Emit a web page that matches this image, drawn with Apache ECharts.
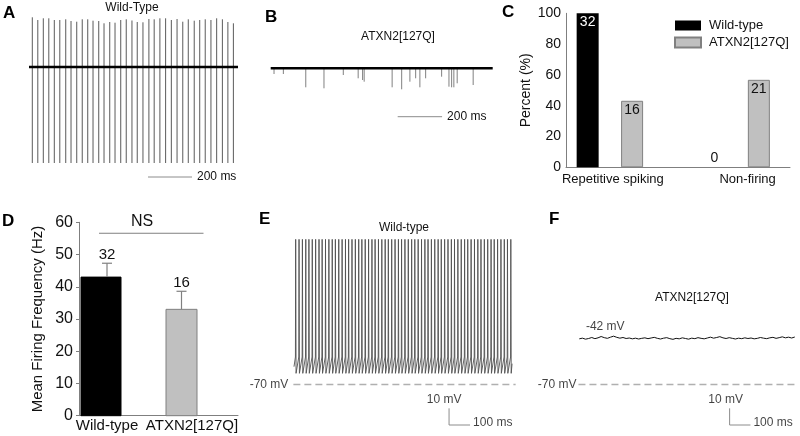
<!DOCTYPE html>
<html><head><meta charset="utf-8">
<script src="https://cdn.jsdelivr.net/npm/echarts@6/dist/echarts.min.js"></script>
<style>html,body{margin:0;padding:0;background:#fff}#c{width:800px;height:436px}</style>
</head><body><div id="c"></div>
<script>
// ================= DATA =================
// Panel A – Wild-Type extracellular trace: spike times (ms), upward peaks and downward trough (a.u.)
const aSpikeTimes = [15,40,65,90,115,140,167,191,217,242,267,291,317,341,367,391,417,442,468,492,518,545,569,595,621,647,673,699,724,751,776,801,827,853,879,904,929];
const aSpikePeaks = [49.7,47,48.7,48.7,47,47,47.7,46,45.3,47.7,47.7,46.3,46,43.7,45,44.3,47,47.7,46.5,45,44.7,48,47.7,48.7,48.7,47,48,45.3,47.7,46.3,47,47.7,47,48.7,47.7,45,43.7];
const aSpikeTrough = -96;
const aDuration = 950;
// Panel B – ATXN2[127Q] trace: event times (ms) and downward depths (a.u.)
const bSpikeTimes = [15,57,158,240,327,394,414,421,547,590,627,653,672,698,770,803,815,825,840,912];
const bSpikeDepths = [-5.7,-5.7,-19,-20,-6.7,-10,-11.7,-13.4,-19,-21,-13.4,-10,-19,-10,-8.4,-18.4,-19,-19,-15,-16.7];
const bDuration = 1000;
const scaleBarAB = 200; // ms
// Panel C – percent of cells
const cCategories = ['Repetitive spiking', 'Non-firing'];
const cSeriesNames = ['Wild-type', 'ATXN2[127Q]'];
const cWildType = [100, 0];
const cAtxn2 = [43.2, 56.8];
const cWildN = [32, 0];
const cAtxnN = [16, 21];
// Panel D – mean firing frequency (Hz)
const dCategories = ['Wild-type', 'ATXN2[127Q]'];
const dMean = [43, 33];
const dErr = [4.3, 5.6];
const dN = [32, 16];
const dNsLevel = 56.6;
// Panel E – wild-type whole-cell trace (mV)
const eSpikeTimes = [8,24,40,56,71,87,103,119,134,150,166,182,197,213,229,245,260,276,292,308,323,339,355,371,386,402,418,434,449,465,481,497,512,528,544,560,575,591,607,623,638,654,670,686,701,717,733,749,764,780,796,812,827,843,859,875,890,906,922,938,953,969,985,1001,1016,1032];
const eSpikePeak = 17.1, eThreshold = -53.5, eAHP = -63.3;
const eDuration = 1038;
// Panel F – ATXN2[127Q] trace (mV), one sample every 15 ms
const fSampleMs = 15;
const fTrace = [-42.6,-42.2,-42.8,-42.4,-41.8,-42.5,-42.0,-41.2,-41.9,-42.3,-41.6,-41.0,-41.7,-42.2,-41.8,-42.4,-42.1,-42.6,-42.2,-42.7,-42.3,-42.0,-42.5,-42.1,-41.7,-42.3,-42.7,-42.2,-41.9,-42.5,-42.9,-42.3,-42.6,-42.0,-42.4,-42.8,-42.2,-42.5,-41.9,-42.3,-42.6,-42.1,-41.6,-42.2,-41.8,-41.3,-42.0,-42.4,-41.9,-42.3,-42.7,-42.2,-42.5,-42.0,-42.4,-42.1,-42.6,-42.3,-41.8,-42.2,-42.5,-42.0,-41.7,-42.3,-41.9,-41.4,-42.0,-41.6,-42.1,-41.5];
const fRestLabel = '-42 mV';
const restLevel = -70;
const scaleBarVolt = 10, scaleBarTime = 100;

// ================= STYLE =================
const FONT = 'Liberation Sans, Arial, Helvetica, sans-serif';
const AXIS = '#7f7f7f';
const GRAY_BAR = '#c0c0c0';
const SCALE = '#8c8c8c';
const DASH = '#b0b0b0';

// ================= BUILDERS =================
function spikeSegments(times, tops, bottoms) {
  const d = [];
  times.forEach((t, i) => {
    d.push([t, Array.isArray(tops) ? tops[i] : tops]);
    d.push([t, Array.isArray(bottoms) ? bottoms[i] : bottoms]);
    d.push([t, null]);
  });
  return d;
}
function eTrace() {
  const d = [[0, eAHP + 4]];
  eSpikeTimes.forEach(t => { d.push([t - 1.2, eThreshold], [t, eSpikePeak], [t + 1.8, eAHP]); });
  d.push([eDuration, eThreshold - 4]);
  return d;
}
function scaleBarLine(x0, y0, len) { return [[x0, y0], [x0 + len, y0]]; }
function labelAt(axis, pt, text, lab) {
  return { type: 'scatter', xAxisIndex: axis, yAxisIndex: axis, symbolSize: 0, silent: true, animation: false,
    data: [{ value: pt, label: Object.assign({ show: true, formatter: text, fontSize: 12, color: '#111' }, lab) }] };
}

const hiddenX = (min, max, grid) => ({ type: 'value', gridIndex: grid, min, max, show: false });
const hiddenY = (min, max, grid) => ({ type: 'value', gridIndex: grid, min, max, show: false });

const lineBase = { type: 'line', symbol: 'none', silent: true, connectNulls: false, animation: false };

// scale bar anchors (annotation positions in axis units)
const aBarX = 541, aBarY = -110;
const bBarX = 572, bBarY = -48.4;
const eBarX = 738, fBarX = 722, efBarY = -94.3;

const option = {
  animation: false,
  textStyle: { fontFamily: FONT },
  grid: [
    { left: 29, top: 10, width: 209, height: 175 },          // 0 A
    { left: 270.7, top: 10, width: 222, height: 175 },       // 1 B
    { left: 546.5, top: 13.3, width: 266, height: 154 },     // 2 C
    { left: 566, top: 13.3, width: 224, height: 154 },       // 3 C x-line
    { left: 60.75, top: 222.3, width: 161, height: 193.4 },  // 4 D
    { left: 79, top: 222.3, width: 159, height: 193.4 },     // 5 D x-line
    { left: 291.9, top: 230, width: 224.8, height: 200 },    // 6 E
    { left: 577.2, top: 230, width: 224.8, height: 200 }     // 7 F
  ],
  xAxis: [
    hiddenX(0, aDuration, 0),
    hiddenX(0, bDuration, 1),
    { type: 'category', gridIndex: 2, data: cCategories,
      axisLine: { show: false }, axisTick: { show: false }, axisLabel: { show: false } },
    { type: 'value', gridIndex: 3, min: 0, max: 1, axisLine: { show: true, lineStyle: { color: AXIS } },
      axisTick: { show: false }, axisLabel: { show: false }, splitLine: { show: false } },
    { type: 'category', gridIndex: 4, data: dCategories,
      axisLine: { show: false }, axisTick: { show: false },
      axisLabel: { interval: 0, hideOverlap: false, color: '#111', fontSize: 15, margin: 3,
        formatter: (v, i) => i === 0 ? '{s1|}{t|' + v + '}' : '{s2|}{t|' + v + '}',
        rich: { s1: { width: 12 }, s2: { width: 21 }, t: { fontSize: 15, color: '#111' } } } },
    { type: 'value', gridIndex: 5, min: 0, max: 1, axisLine: { show: true, lineStyle: { color: AXIS } },
      axisTick: { show: false }, axisLabel: { show: false }, splitLine: { show: false } },
    hiddenX(-10, 1060, 6),
    hiddenX(-10, 1060, 7)
  ],
  yAxis: [
    hiddenY(-118, 57, 0),
    hiddenY(-116.7, 58.3, 1),
    { type: 'value', gridIndex: 2, min: 0, max: 100, interval: 20, offset: -19.5,
      name: 'Percent (%)', nameLocation: 'middle', nameGap: 33, nameTextStyle: { fontSize: 14, color: '#111' },
      axisLine: { show: true, lineStyle: { color: AXIS } }, axisTick: { show: false },
      axisLabel: { fontSize: 14, color: '#111', margin: 5 }, splitLine: { show: false } },
    { type: 'value', gridIndex: 3, min: 0, max: 100, show: false },
    { type: 'value', gridIndex: 4, min: 0, max: 60, interval: 10, offset: -18.25,
      name: 'Mean Firing Frequency (Hz)', nameLocation: 'middle', nameGap: 34, nameTextStyle: { fontSize: 15, color: '#111' },
      axisLine: { show: true, lineStyle: { color: AXIS } }, axisTick: { show: true, inside: false, length: 3, lineStyle: { color: AXIS } },
      axisLabel: { fontSize: 16, color: '#111', margin: 6 }, splitLine: { show: false } },
    { type: 'value', gridIndex: 5, min: 0, max: 60, show: false },
    hiddenY(-97.3, 22.7, 6),
    hiddenY(-97.3, 22.7, 7)
  ],
  legend: {
    data: cSeriesNames, orient: 'vertical', left: 674, top: 19, padding: 0, itemWidth: 26, itemHeight: 10, itemGap: 4,
    icon: 'rect', textStyle: { fontSize: 13, color: '#111', padding: [0, 0, 0, 3] }, selectedMode: false
  },
  series: [
    // ---- A ----
    Object.assign({}, lineBase, { xAxisIndex: 0, yAxisIndex: 0, data: spikeSegments(aSpikeTimes, aSpikePeaks, aSpikeTrough),
      lineStyle: { color: '#5a5a5a', width: 1 } }),
    Object.assign({}, lineBase, { xAxisIndex: 0, yAxisIndex: 0, data: [[0, 0], [aDuration, 0]],
      lineStyle: { color: '#000', width: 2.6 } }),
    Object.assign({}, lineBase, { xAxisIndex: 0, yAxisIndex: 0, data: scaleBarLine(aBarX, aBarY, scaleBarAB),
      lineStyle: { color: SCALE, width: 1 },
      endLabel: { show: true, formatter: scaleBarAB + ' ms', fontSize: 12, color: '#111', distance: 5 } }),
    // ---- B ----
    Object.assign({}, lineBase, { xAxisIndex: 1, yAxisIndex: 1, data: spikeSegments(bSpikeTimes, 0, bSpikeDepths),
      lineStyle: { color: '#808080', width: 1 } }),
    Object.assign({}, lineBase, { xAxisIndex: 1, yAxisIndex: 1, data: [[0, 0], [bDuration, 0]],
      lineStyle: { color: '#000', width: 2.4 } }),
    Object.assign({}, lineBase, { xAxisIndex: 1, yAxisIndex: 1, data: scaleBarLine(bBarX, bBarY, scaleBarAB),
      lineStyle: { color: SCALE, width: 1 },
      endLabel: { show: true, formatter: scaleBarAB + ' ms', fontSize: 12, color: '#111', distance: 5 } }),
    // ---- C ----
    { type: 'bar', name: cSeriesNames[0], xAxisIndex: 2, yAxisIndex: 2, barWidth: 22, barGap: '102%',
      itemStyle: { color: '#000' },
      data: cWildType.map((v, i) => ({ value: v, label: { show: true, position: v > 0 ? 'insideTop' : 'top', distance: 2,
        color: v > 0 ? '#fff' : '#111', fontSize: 14, formatter: String(cWildN[i]) } })) },
    { type: 'bar', name: cSeriesNames[1], xAxisIndex: 2, yAxisIndex: 2, barWidth: 22,
      itemStyle: { color: GRAY_BAR, borderColor: '#808080', borderWidth: 1 },
      data: cAtxn2.map((v, i) => ({ value: v, label: { show: true, position: 'insideTop', distance: 2,
        color: '#111', fontSize: 14, formatter: String(cAtxnN[i]) } })) },
    // ---- D ----
    { type: 'custom', xAxisIndex: 4, yAxisIndex: 4, silent: true,
      data: dMean.map((m, i) => [i, m, m + dErr[i], dN[i]]),
      renderItem: function (params, api) {
        const i = api.value(0);
        const widths = [40, 31];
        const errShift = [6, 0];
        const fills = ['#000', GRAY_BAR];
        const base = api.coord([i, 0]);
        const top = api.coord([i, api.value(1)]);
        const et = api.coord([i, api.value(2)]);
        const w = widths[i];
        const ex = et[0] + errShift[i];
        return { type: 'group', children: [
          { type: 'rect', shape: { x: base[0] - w / 2, y: top[1], width: w, height: base[1] - top[1] },
            style: { fill: fills[i], stroke: i === 0 ? '#000' : '#808080', lineWidth: 1 } },
          { type: 'line', shape: { x1: ex, y1: top[1], x2: ex, y2: et[1] }, style: { stroke: '#808080', lineWidth: 1.2 } },
          { type: 'line', shape: { x1: ex - 5, y1: et[1], x2: ex + 5, y2: et[1] }, style: { stroke: '#808080', lineWidth: 1.2 } },
          { type: 'text', x: ex, y: et[1] - 8, style: { text: String(api.value(3)), fontSize: 15, fontFamily: FONT,
            fill: '#111', align: 'center', verticalAlign: 'middle' } }
        ] };
      } },
    // ---- E ----
    Object.assign({}, lineBase, { xAxisIndex: 6, yAxisIndex: 6, data: eTrace(), lineStyle: { color: '#505050', width: 0.9 } }),
    Object.assign({}, lineBase, { xAxisIndex: 6, yAxisIndex: 6, data: [[-3, restLevel], [1055, restLevel]],
      lineStyle: { color: DASH, width: 1.6, type: [7, 4] } }),
    labelAt(6, [-3, restLevel], restLevel + ' mV', { position: 'left', distance: 5 }),
    Object.assign({}, lineBase, { xAxisIndex: 6, yAxisIndex: 6,
      data: [[eBarX, efBarY + scaleBarVolt], [eBarX, efBarY], [eBarX + scaleBarTime, efBarY]],
      lineStyle: { color: SCALE, width: 1 } }),
    labelAt(6, [eBarX, efBarY + scaleBarVolt], scaleBarVolt + ' mV', { position: 'top', distance: 3, offset: [-5, 0] }),
    labelAt(6, [eBarX + scaleBarTime, efBarY], scaleBarTime + ' ms', { position: 'right', distance: 3, offset: [0, -2] }),
    // ---- F ----
    Object.assign({}, lineBase, { xAxisIndex: 7, yAxisIndex: 7,
      data: fTrace.map((v, i) => [i * fSampleMs, v]), lineStyle: { color: '#111', width: 1 } }),
    labelAt(7, [0, fTrace[0]], fRestLabel, { position: 'top', distance: 6, offset: [26, 0] }),
    Object.assign({}, lineBase, { xAxisIndex: 7, yAxisIndex: 7, data: [[-4, restLevel], [1043, restLevel]],
      lineStyle: { color: DASH, width: 1.6, type: [7, 4] } }),
    labelAt(7, [-4, restLevel], restLevel + ' mV', { position: 'left', distance: 2 }),
    Object.assign({}, lineBase, { xAxisIndex: 7, yAxisIndex: 7,
      data: [[fBarX, efBarY + scaleBarVolt], [fBarX, efBarY], [fBarX + scaleBarTime, efBarY]],
      lineStyle: { color: SCALE, width: 1 } }),
    labelAt(7, [fBarX, efBarY + scaleBarVolt], scaleBarVolt + ' mV', { position: 'top', distance: 3, offset: [-4, 0] }),
    labelAt(7, [fBarX + scaleBarTime, efBarY], scaleBarTime + ' ms', { position: 'right', distance: 3, offset: [0, -2] })
  ],
  graphic: [
    // panel letters
    { type: 'text', left: 3, top: 5, style: { text: 'A', font: 'bold 17px ' + FONT, fill: '#000' } },
    { type: 'text', left: 265, top: 9, style: { text: 'B', font: 'bold 17px ' + FONT, fill: '#000' } },
    { type: 'text', left: 502, top: 4, style: { text: 'C', font: 'bold 17px ' + FONT, fill: '#000' } },
    { type: 'text', left: 2, top: 213, style: { text: 'D', font: 'bold 17px ' + FONT, fill: '#000' } },
    { type: 'text', left: 259, top: 211, style: { text: 'E', font: 'bold 17px ' + FONT, fill: '#000' } },
    { type: 'text', left: 549, top: 211, style: { text: 'F', font: 'bold 17px ' + FONT, fill: '#000' } },
    // titles
    { type: 'text', x: 132, y: 8, style: { text: 'Wild-Type', font: '12px ' + FONT, fill: '#111', align: 'center', verticalAlign: 'middle' } },
    { type: 'text', x: 398, y: 37, style: { text: 'ATXN2[127Q]', font: '12px ' + FONT, fill: '#111', align: 'center', verticalAlign: 'middle' } },
    { type: 'text', x: 404, y: 228, style: { text: 'Wild-type', font: '12px ' + FONT, fill: '#111', align: 'center', verticalAlign: 'middle' } },
    { type: 'text', x: 692, y: 298, style: { text: 'ATXN2[127Q]', font: '12px ' + FONT, fill: '#111', align: 'center', verticalAlign: 'middle' } },
    // NS text in D
    { type: 'text', x: 142, y: 222, style: { text: 'NS', font: '16px ' + FONT, fill: '#111', align: 'center', verticalAlign: 'middle' } }
  ]
};
const chart = echarts.init(document.getElementById('c'));
chart.setOption(option);
// NS line placed at its level on D's axis
const nsY = chart.convertToPixel({ gridIndex: 4 }, [0, dNsLevel])[1];
const c0 = chart.convertToPixel({ gridIndex: 4 }, [0, 0])[0];
const c1 = chart.convertToPixel({ gridIndex: 4 }, [1, 0])[0];
// C category labels at their category positions (with small reading-based shifts)
const cLabelShift = [3, 11];
const cLabels = cCategories.map((name, i) => {
  const p = chart.convertToPixel({ gridIndex: 2 }, [i, 0]);
  return { type: 'text', x: p[0] + cLabelShift[i], y: p[1] + 12,
    style: { text: name, font: '13px ' + FONT, fill: '#111', align: 'center', verticalAlign: 'middle' } };
});
chart.setOption({ graphic: option.graphic.concat(cLabels, [
  { type: 'line', shape: { x1: c0 - 2, y1: nsY, x2: c1 + 22, y2: nsY }, style: { stroke: '#808080', lineWidth: 1 } }
]) });
</script>
</body></html>
